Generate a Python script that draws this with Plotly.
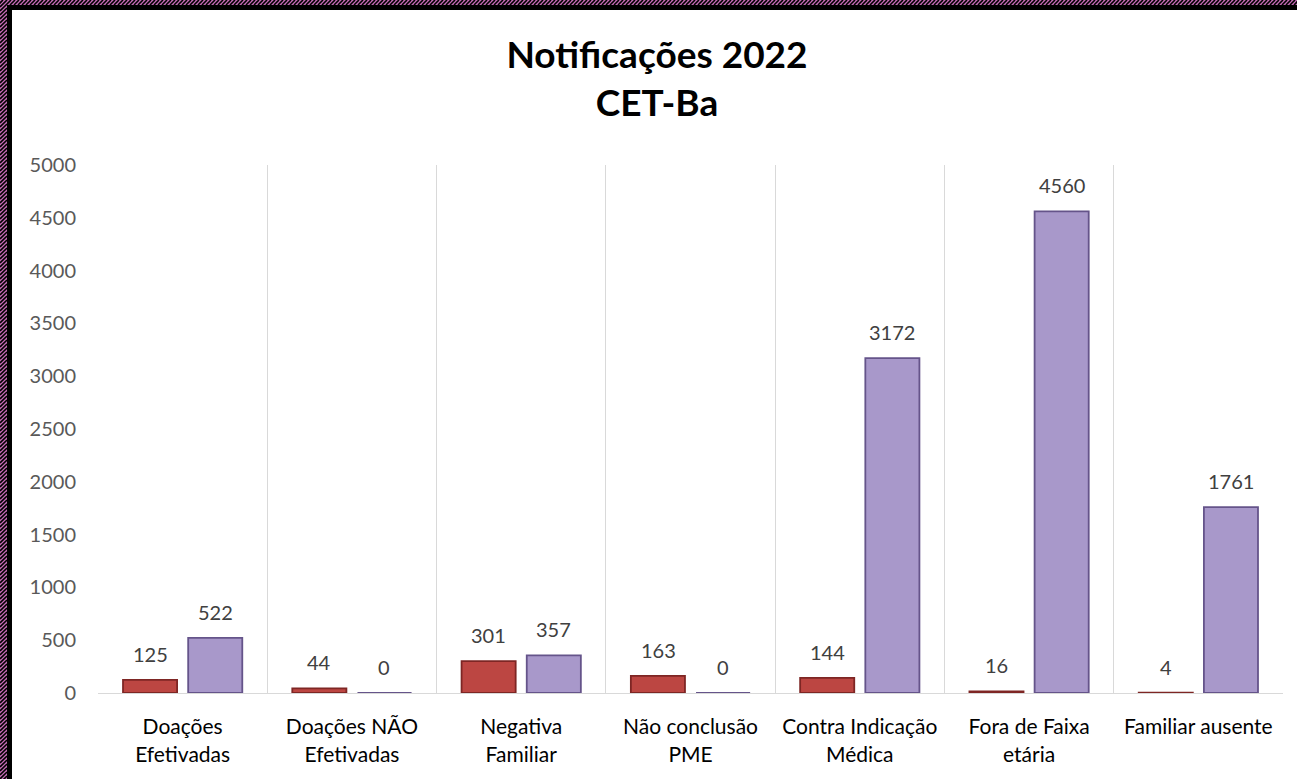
import plotly.graph_objects as go

# chart data
categorias = [
    "Doações<br>Efetivadas",
    "Doações NÃO<br>Efetivadas",
    "Negativa<br>Familiar",
    "Não conclusão<br>PME",
    "Contra Indicação<br>Médica",
    "Fora de Faixa<br>etária",
    "Familiar ausente",
]
serie_a = [125, 44, 301, 163, 144, 16, 4]
serie_b = [522, 0, 357, 0, 3172, 4560, 1761]
y_ticks = list(range(0, 5001, 500))

W, H = 1297, 779
L, R, T, B = 98, 14, 165, 86
PW, PH = W - L - R, H - T - B
FONT = "Lato"


def px(x):
    return (x - L) / PW


def py(y):
    return (H - B - y) / PH


fig = go.Figure()
fig.add_trace(go.Bar(
    x=categorias, y=serie_a, name="A",
    marker=dict(color="#BC4642", line=dict(color="#7E2624", width=1.8)),
))
fig.add_trace(go.Bar(
    x=categorias, y=serie_b, name="B",
    marker=dict(color="#A898CA", line=dict(color="#65548A", width=1.8)),
))

# data labels above each bar
annots = []
for cat, a, b in zip(categorias, serie_a, serie_b):
    for val, shift in ((a, -32.5), (b, 32.5)):
        annots.append(dict(
            x=cat, y=val, xref="x", yref="y", text=str(val), showarrow=False,
            xshift=shift, yshift=12, yanchor="bottom",
            font=dict(family=FONT, size=20, color="#404040"),
        ))

# hatched pink/black frame on top and left edges
shapes = [
    dict(type="rect", xref="paper", yref="paper", x0=px(0), x1=px(12), y0=py(H), y1=py(0),
         fillcolor="black", line=dict(width=0), layer="above"),
    dict(type="rect", xref="paper", yref="paper", x0=px(0), x1=px(W), y0=py(10), y1=py(0),
         fillcolor="black", line=dict(width=0), layer="above"),
    dict(type="rect", xref="paper", yref="paper", x0=px(0), x1=px(7), y0=py(H), y1=py(0),
         fillcolor="#C46BB4", line=dict(width=0), layer="above"),
    dict(type="rect", xref="paper", yref="paper", x0=px(0), x1=px(W), y0=py(5), y1=py(0),
         fillcolor="#C46BB4", line=dict(width=0), layer="above"),
]
segs = []
for x in range(-6, W, 4):
    segs.append(f"M{px(x):.5f},{py(5):.5f} L{px(x + 5):.5f},{py(0):.5f}")
for y in range(0, H + 8, 4):
    segs.append(f"M{px(0):.5f},{py(y + 7):.5f} L{px(7):.5f},{py(y):.5f}")
shapes.append(dict(type="path", xref="paper", yref="paper", path=" ".join(segs),
                   line=dict(color="black", width=1.6), layer="above"))

fig.update_layout(
    width=W, height=H,
    margin=dict(l=L, r=R, t=T, b=B, autoexpand=False),
    paper_bgcolor="white", plot_bgcolor="white",
    showlegend=False,
    barmode="group", bargap=0.23, bargroupgap=0.17,
    title=dict(
        text="<b>Notificações 2022<br>CET-Ba</b>",
        x=657 / W, xref="container", xanchor="center",
        y=1 - 68 / H, yref="container", yanchor="top",
        font=dict(family=FONT, size=37, color="#000000"),
    ),
    font=dict(family=FONT),
    annotations=annots,
    shapes=shapes,
)
fig.update_xaxes(
    type="category", tickson="boundaries", showgrid=True, gridcolor="#D9D9D9", gridwidth=1.3,
    showline=True, linecolor="#D9D9D9", linewidth=1.3, ticks="",
    tickfont=dict(family=FONT, size=21, color="#000000"), ticklabelstandoff=15,
)
fig.update_yaxes(
    range=[0, 5000], tickvals=y_ticks, showgrid=False, zeroline=False, showline=False,
    ticks="", tickfont=dict(family=FONT, size=20, color="#595959"), ticklabelstandoff=21,
)

# drop the default page margin so the figure sits at the window corner
fig.write_html(
    "out.html",
    config={"displayModeBar": False},
    post_script=(
        "document.body.style.margin='0';document.body.style.overflow='hidden';"
        "document.documentElement.style.background='white';"
    ),
)
